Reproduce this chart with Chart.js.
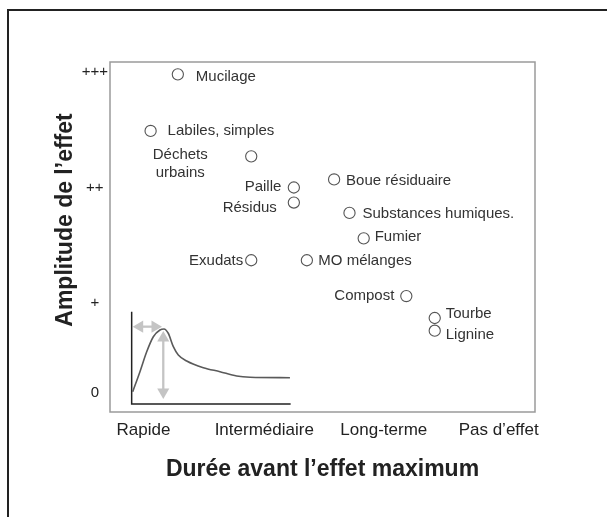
<!DOCTYPE html>
<html lang="fr">
<head>
<meta charset="utf-8">
<title>Durée avant l’effet maximum</title>
<script src="https://cdn.jsdelivr.net/npm/chart.js@4.4.1/dist/chart.umd.min.js"></script>
<style>
    html, body { margin: 0; padding: 0; background: #fff; overflow: hidden; }
    body { position: relative; width: 607px; height: 517px; }
    #frame {
        position: absolute; left: 7px; top: 9px;
        width: 600px; height: 508px; box-sizing: border-box;
        border-top: 2px solid #222; border-left: 2px solid #222;
    }
    #chart { position: absolute; left: 0; top: 0; }
</style>
</head>
<body>
<div id="frame"></div>
<canvas id="chart" width="607" height="517"></canvas>
<script>
// Materials: time before maximum effect (x) and amplitude of the effect (y)
const materials = ['Mucilage', 'Labiles, simples', 'Déchets\nurbains', 'Paille', 'Résidus', 'Exudats',
    'Boue résiduaire', 'Substances humiques.', 'Fumier', 'MO mélanges', 'Compost', 'Tourbe', 'Lignine'];
const duration = [0.29, 0.06, 0.91, 1.27, 1.27, 0.91, 1.61, 1.74, 1.86, 1.38, 2.22, 2.46, 2.46];
const amplitude = [2.98, 2.49, 2.27, 2.00, 1.87, 1.37, 2.07, 1.78, 1.56, 1.37, 1.06, 0.87, 0.76];

const xTickValues = [0, 1.02, 2.03, 3];
const xTickLabels = ['Rapide', 'Intermédiaire', 'Long-terme', 'Pas d’effet'];
const yTickValues = [0.22, 1, 2, 3];
const yTickLabels = ['0', '+', '++', '+++'];

// small sketch of the effect over time (bottom left)
const curveX = [-0.091, -0.030, 0.027, 0.083, 0.139, 0.173, 0.209, 0.252, 0.294, 0.365, 0.505, 0.646, 0.787, 0.900, 1.237];
const curveY = [0.232, 0.405, 0.578, 0.708, 0.766, 0.775, 0.738, 0.622, 0.550, 0.498, 0.440, 0.405, 0.368, 0.357, 0.353];
const sketchAxisX = [-0.100, -0.100, 1.243];
const sketchAxisY = [0.925, 0.126, 0.126];
const delayArrowX = [-0.032, 0.097];
const delayArrowY = [0.795, 0.795];
const peakArrowX = [0.167, 0.167];
const peakArrowY = [0.697, 0.229];

// label placement next to each circle
const labelPlace = [
    {align: 'left', dx: 18, dy: 3},
    {align: 'left', dx: 17, dy: 0},
    {align: 'center', dx: -71, dy: -1},
    {align: 'right', dx: -12.5, dy: -0.5},
    {align: 'right', dx: -17, dy: 5},
    {align: 'right', dx: -8, dy: 1},
    {align: 'left', dx: 12, dy: 1},
    {align: 'left', dx: 13, dy: 1},
    {align: 'left', dx: 11, dy: -1},
    {align: 'left', dx: 11.5, dy: 1},
    {align: 'right', dx: -12, dy: 0},
    {align: 'left', dx: 11, dy: -4.5},
    {align: 'left', dx: 11, dy: 4.5}
];

function toPoints(xs, ys){
    return xs.map(function(x, i){ return {x: x, y: ys[i]}; });
}

const FONT = '"Liberation Sans", Arial, Helvetica, sans-serif';
Chart.defaults.font.family = FONT;

const boxPlugin = {
    id: 'plotBox',
    beforeDatasetsDraw(chart){
        const a = chart.chartArea;
        const ctx = chart.ctx;
        ctx.save();
        ctx.strokeStyle = '#9a9a9a';
        ctx.lineWidth = 1.5;
        ctx.strokeRect(a.left, a.top, a.right - a.left, a.bottom - a.top);
        ctx.restore();
    }
};

const labelPlugin = {
    id: 'pointLabels',
    afterDatasetsDraw(chart){
        const meta = chart.getDatasetMeta(0);
        const ctx = chart.ctx;
        ctx.save();
        ctx.font = '15px ' + FONT;
        ctx.fillStyle = '#333';
        ctx.textBaseline = 'middle';
        meta.data.forEach(function(pt, i){
            const p = labelPlace[i];
            ctx.textAlign = p.align;
            materials[i].split('\n').forEach(function(line, k){
                ctx.fillText(line, pt.x + p.dx, pt.y + p.dy + k * 18);
            });
        });
        ctx.restore();
    }
};

// y title sits a bit above the middle of the plot box
const yTitlePlugin = {
    id: 'yTitle',
    afterDraw(chart){
        const a = chart.chartArea;
        const ctx = chart.ctx;
        ctx.save();
        ctx.translate(a.left - 44, a.top + 158);
        ctx.rotate(-Math.PI / 2);
        ctx.font = 'bold 23px ' + FONT;
        ctx.fillStyle = '#222';
        ctx.textAlign = 'center';
        ctx.textBaseline = 'middle';
        ctx.fillText('Amplitude de l’effet', 0, 0);
        ctx.restore();
    }
};

const arrowGrey = '#c4c4c4';

const CHdata = {
    datasets: [{
        data: toPoints(duration, amplitude),
        pointStyle: 'circle',
        pointRadius: 5.6,
        pointBorderWidth: 1.1,
        pointBorderColor: '#555',
        pointBackgroundColor: '#fff',
        showLine: false,
        order: 0
    }, {
        data: toPoints(curveX, curveY),
        showLine: true,
        borderColor: '#5a5a5a',
        borderWidth: 1.6,
        cubicInterpolationMode: 'monotone',
        pointRadius: 0,
        order: 1
    }, {
        data: toPoints(sketchAxisX, sketchAxisY),
        showLine: true,
        borderColor: '#222',
        borderWidth: 1.5,
        pointRadius: 0,
        order: 1
    }, {
        data: toPoints(delayArrowX, delayArrowY),
        showLine: true,
        borderColor: arrowGrey,
        borderWidth: 2.3,
        pointStyle: 'triangle',
        pointRadius: 7,
        pointRotation: [270, 90],
        pointBorderWidth: 0,
        pointBackgroundColor: arrowGrey,
        order: 2
    }, {
        data: toPoints(peakArrowX, peakArrowY),
        showLine: true,
        borderColor: arrowGrey,
        borderWidth: 2.3,
        pointStyle: 'triangle',
        pointRadius: 7,
        pointRotation: [0, 180],
        pointBorderWidth: 0,
        pointBackgroundColor: arrowGrey,
        order: 2
    }]
};

const CHconfig = {
    type: 'scatter',
    data: CHdata,
    options: {
        responsive: false,
        animation: false,
        events: [],
        layout: {padding: {left: 40, top: 62, right: 72, bottom: 0}},
        plugins: {legend: {display: false}, tooltip: {enabled: false}},
        scales: {
            x: {
                type: 'linear',
                min: -0.283,
                max: 3.307,
                afterBuildTicks: function(s){ s.ticks = xTickValues.map(function(v){ return {value: v}; }); },
                afterFit: function(s){ s.height = 105; },
                grid: {display: false, drawTicks: false},
                border: {display: false},
                ticks: {
                    autoSkip: false,
                    maxRotation: 0,
                    padding: 8,
                    color: '#222',
                    font: {size: 17},
                    callback: function(v, i){ return xTickLabels[i]; }
                },
                title: {
                    display: true,
                    text: 'Durée avant l’effet maximum',
                    color: '#222',
                    font: {size: 23, weight: 'bold'},
                    padding: {top: 0, bottom: 34}
                }
            },
            y: {
                type: 'linear',
                min: 0.056,
                max: 3.087,
                afterBuildTicks: function(s){ s.ticks = yTickValues.map(function(v){ return {value: v}; }); },
                afterFit: function(s){ s.width = 70; },
                grid: {display: false, drawTicks: false},
                border: {display: false},
                ticks: {
                    autoSkip: false,
                    crossAlign: 'center',
                    padding: 2,
                    color: '#222',
                    font: {size: 15},
                    callback: function(v, i){ return yTickLabels[i]; }
                }
            }
        }
    },
    plugins: [boxPlugin, labelPlugin, yTitlePlugin]
};

const chart = new Chart(document.getElementById('chart'), CHconfig);
</script>
</body>
</html>
